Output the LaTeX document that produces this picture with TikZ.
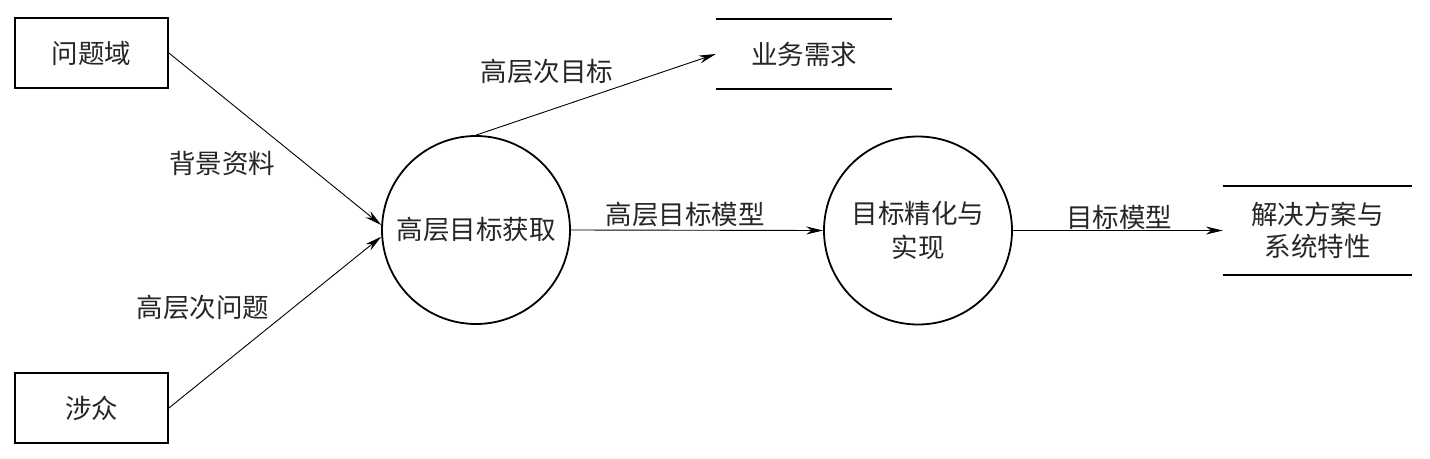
\documentclass[tikz,border=0pt]{standalone}
\usepackage{fontspec}
\newfontfamily\cjk{Noto Sans CJK SC}
\usetikzlibrary{arrows.meta}
\begin{document}
\begin{tikzpicture}[x=1pt,y=-1pt,
  lbl/.style={font=\cjk\fontsize{26.5pt}{34pt}\selectfont, inner sep=0pt, text=black!85},
  entity/.style={lbl, draw=black, line width=1.8pt, minimum width=153pt, minimum height=70pt},
  proc/.style={lbl, draw=black, circle, line width=1.8pt, minimum size=188pt, align=center},
  store/.style={lbl, minimum width=176pt, minimum height=70pt, align=center},
  flow/.style={-{Stealth[length=17pt,width=8pt]}, line width=0.9pt},
  storeline/.style={line width=2.5pt}]
\useasboundingbox (0,0) rectangle (1430,458);
\node[entity] (dom) at (91.5,53) {问题域};
\node[entity] (stk) at (91.5,408) {涉众};
\node[proc] (p1) at (476,230) {高层目标获取};
\node[proc] (p2) at (918,230.5) {目标精化与\\实现};
\node[store] (s1) at (804,54) {业务需求};
\node[store, minimum width=189pt, minimum height=89pt, font=\cjk\fontsize{26.5pt}{32pt}\selectfont] (s2) at (1317.5,230.5) {解决方案与\\系统特性};
\draw[storeline] (s1.north west) -- (s1.north east);
\draw[storeline] (s1.south west) -- (s1.south east);
\draw[storeline] (s2.north west) -- (s2.north east);
\draw[storeline] (s2.south west) -- (s2.south east);
\draw[flow] (dom.east) -- (p1.177);
\draw[flow] (stk.east) -- (p1.184);
\draw[flow] (p1.north) -- (s1.west);
\draw[flow] (p1.east) -- (p2.west);
\draw[flow] (p2.east) -- (s2.west);
\node[lbl] (l1) at (222,163) {背景资料};
\node[lbl] (l2) at (203,308) {高层次问题};
\node[lbl] (l3) at (547,72) {高层次目标};
\node[lbl] (l4) at (685,215) {高层目标模型};
\node[lbl] (l5) at (1119,217) {目标模型};
\end{tikzpicture}
\end{document}
